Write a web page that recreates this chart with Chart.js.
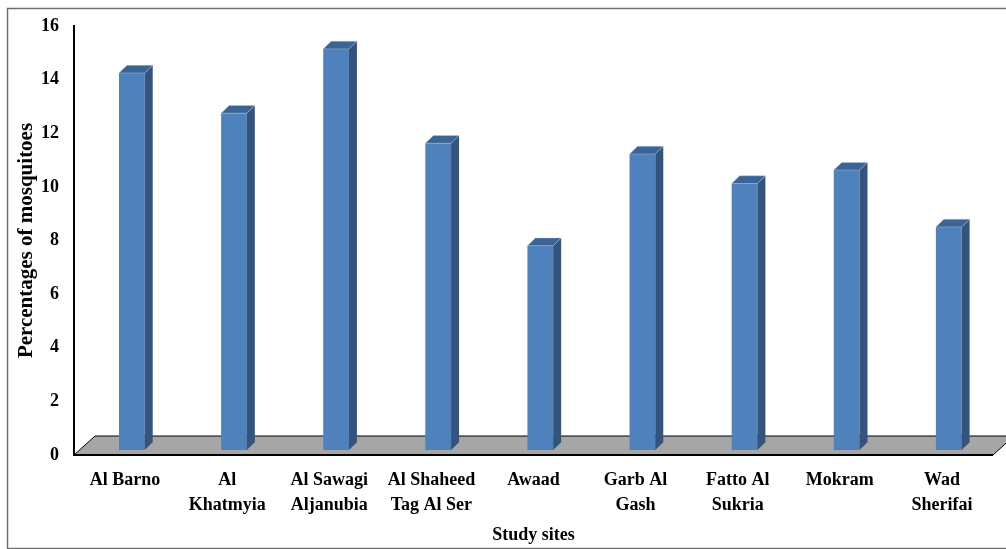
<!DOCTYPE html>
<html>
<head>
<meta charset="utf-8">
<script src="https://cdn.jsdelivr.net/npm/chart.js@4/dist/chart.umd.min.js"></script>
<style>
  html, body { margin: 0; padding: 0; background: #ffffff; }
  #wrap { width: 1006px; height: 549px; }
</style>
</head>
<body>
<div id="wrap"><canvas id="c" width="1006" height="549"></canvas></div>
<script>
// Study sites (x categories, multi-line labels)
const sites = [
  ['Al Barno'],
  ['Al', 'Khatmyia'],
  ['Al Sawagi', 'Aljanubia'],
  ['Al Shaheed', 'Tag Al Ser'],
  ['Awaad'],
  ['Garb Al', 'Gash'],
  ['Fatto Al', 'Sukria'],
  ['Mokram'],
  ['Wad', 'Sherifai']
];

// Percentage of mosquitoes collected at each site
const percentages = [14.06, 12.56, 14.96, 11.44, 7.62, 11.04, 9.94, 10.44, 8.32];

// Value axis range and tick step
const yMin = 0;
const yMax = 16;
const yStep = 2;

const FONT = 'Liberation Serif, Times New Roman, serif';

// Oblique projection of the 3-D look
const FLOOR_DEPTH = { dx: 21, dy: -19 };   // back edge of the floor
const BAR_SHIFT = { dx: 6.8, dy: -5 };     // front face of the bars sits inside the floor
const BAR_DEPTH = { dx: 8, dy: -7.7 };     // thickness of each bar

const pseudo3d = {
  id: 'pseudo3d',
  beforeDraw(chart) {
    const ctx = chart.ctx;
    ctx.save();
    ctx.fillStyle = '#ffffff';
    ctx.fillRect(0, 0, chart.width, chart.height);
    ctx.restore();
  },
  beforeDatasetsDraw(chart) {
    const ctx = chart.ctx;
    const xs = chart.scales.x, ys = chart.scales.y;
    const y0 = ys.getPixelForValue(0);
    const l = xs.left, r = xs.right;
    // floor
    ctx.save();
    ctx.beginPath();
    ctx.moveTo(l, y0);
    ctx.lineTo(r, y0);
    ctx.lineTo(r + FLOOR_DEPTH.dx, y0 + FLOOR_DEPTH.dy);
    ctx.lineTo(l + FLOOR_DEPTH.dx, y0 + FLOOR_DEPTH.dy);
    ctx.closePath();
    ctx.fillStyle = '#a6a6a6';
    ctx.fill();
    ctx.strokeStyle = '#000000';
    ctx.lineWidth = 1;
    ctx.stroke();
    ctx.beginPath();
    ctx.moveTo(l, y0);
    ctx.lineTo(r, y0);
    ctx.lineWidth = 2;
    ctx.stroke();
    ctx.restore();
    // bars are drawn shifted into the floor
    ctx.save();
    ctx.translate(BAR_SHIFT.dx, BAR_SHIFT.dy);
  },
  afterDatasetsDraw(chart) {
    const ctx = chart.ctx;
    const meta = chart.getDatasetMeta(0);
    meta.data.forEach((el) => {
      const p = el.getProps(['x', 'y', 'base', 'width'], true);
      const left = p.x - p.width / 2, right = p.x + p.width / 2;
      const top = p.y, base = p.base;
      // side face
      ctx.beginPath();
      ctx.moveTo(right, top);
      ctx.lineTo(right + BAR_DEPTH.dx, top + BAR_DEPTH.dy);
      ctx.lineTo(right + BAR_DEPTH.dx, base + BAR_DEPTH.dy);
      ctx.lineTo(right, base);
      ctx.closePath();
      ctx.fillStyle = '#32547d';
      ctx.fill();
      // top face
      ctx.beginPath();
      ctx.moveTo(left, top);
      ctx.lineTo(left + BAR_DEPTH.dx, top + BAR_DEPTH.dy);
      ctx.lineTo(right + BAR_DEPTH.dx, top + BAR_DEPTH.dy);
      ctx.lineTo(right, top);
      ctx.closePath();
      ctx.fillStyle = '#3b6393';
      ctx.fill();
      ctx.strokeStyle = 'rgba(190,208,232,0.6)';
      ctx.lineWidth = 0.7;
      ctx.stroke();
    });
    ctx.restore();
  },
  afterDraw(chart) {
    const ctx = chart.ctx;
    ctx.save();
    ctx.strokeStyle = '#6e6e6e';
    ctx.lineWidth = 1.5;
    ctx.strokeRect(7.5, 8.5, 1010, 540);
    ctx.restore();
  }
};

new Chart(document.getElementById('c'), {
  type: 'bar',
  data: {
    labels: sites,
    datasets: [{
      data: percentages,
      backgroundColor: '#4f81bd',
      borderWidth: 0,
      barPercentage: 0.252,
      categoryPercentage: 1
    }]
  },
  options: {
    responsive: false,
    devicePixelRatio: 1,
    animation: false,
    layout: { padding: { left: 0, right: 13, top: 26, bottom: 0 } },
    plugins: { legend: { display: false }, tooltip: { enabled: false } },
    scales: {
      x: {
        grid: { display: false, drawTicks: false },
        border: { display: false },
        ticks: {
          color: '#000000',
          font: { family: FONT, size: 18, weight: 'bold', lineHeight: 1.39 },
          padding: 12.5,
          maxRotation: 0,
          autoSkip: false
        },
        title: {
          display: true,
          text: 'Study sites',
          color: '#000000',
          font: { family: FONT, size: 18, weight: 'bold', lineHeight: 1.2 },
          padding: { top: 0, bottom: 3 }
        },
        afterFit(scale) { scale.height = 94; }
      },
      y: {
        min: yMin,
        max: yMax,
        grid: { display: false, drawTicks: false },
        border: { display: true, color: '#000000', width: 2 },
        ticks: {
          stepSize: yStep,
          color: '#000000',
          font: { family: FONT, size: 18, weight: 'bold' },
          padding: 15
        },
        title: {
          display: true,
          text: 'Percentages of mosquitoes',
          color: '#000000',
          font: { family: FONT, size: 21, weight: 'bold', lineHeight: 1.2 },
          padding: { top: 14, bottom: 0 }
        },
        afterFit(scale) { scale.width = 74; }
      }
    }
  },
  plugins: [pseudo3d]
});
</script>
</body>
</html>
